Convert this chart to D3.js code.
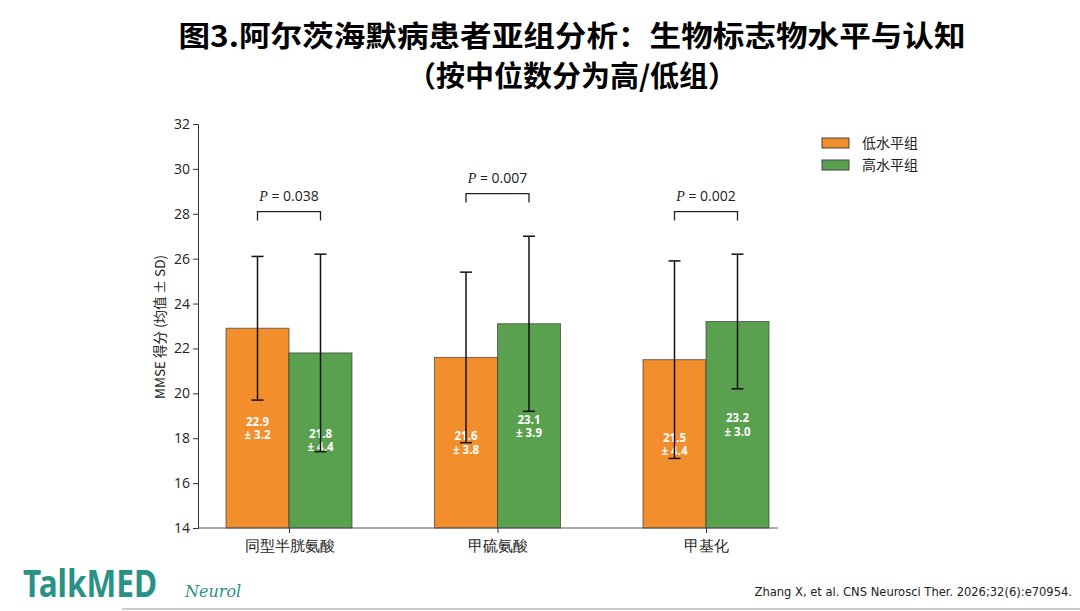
<!DOCTYPE html>
<html>
<head>
<meta charset="utf-8">
<script src="https://cdn.jsdelivr.net/npm/d3@7"></script>
<style>
  body { margin: 0; background: #fff; }
  svg { display: block; font-family: "Noto Sans CJK SC", "Noto Sans", sans-serif; }
</style>
</head>
<body>
<div id="chart"></div>
<script>
// data
var categories = ["同型半胱氨酸", "甲硫氨酸", "甲基化"];
var groups = ["低水平组", "高水平组"];
var lowMean = [22.9, 21.6, 21.5];
var lowSD = [3.2, 3.8, 4.4];
var highMean = [21.8, 23.1, 23.2];
var highSD = [4.4, 3.9, 3.0];
var pValues = ["0.038", "0.007", "0.002"];
var yTicks = [14, 16, 18, 20, 22, 24, 26, 28, 30, 32];

var colors = ["#f28e2b", "#59a14f"];

var svgWidth = 1080, svgHeight = 611;

var svg = d3.select("#chart").append("svg")
  .attr("width", svgWidth)
  .attr("height", svgHeight);

// title
svg.append("text")
  .attr("x", 572).attr("y", 47)
  .attr("text-anchor", "middle")
  .style("font-size", "29px").style("font-weight", "bold")
  .attr("textLength", 787).attr("lengthAdjust", "spacingAndGlyphs")
  .text("图3.阿尔茨海默病患者亚组分析：生物标志物水平与认知");
svg.append("text")
  .attr("x", 572).attr("y", 87)
  .attr("text-anchor", "middle")
  .style("font-size", "29px").style("font-weight", "bold")
  .text("（按中位数分为高/低组）");

var chart = svg.append("g");

var y = d3.scaleLinear()
  .domain([14, 32])
  .range([528, 124]);

var x = d3.scalePoint()
  .domain(categories)
  .range([289, 706]);

var barW = 63;

// build rows for bars
var rows = [];
categories.forEach(function(c, i) {
  rows.push({ cat: c, g: 0, mean: lowMean[i], sd: lowSD[i] });
  rows.push({ cat: c, g: 1, mean: highMean[i], sd: highSD[i] });
});
function barX(d) { return d.g == 0 ? x(d.cat) - barW : x(d.cat); }

// bars
chart.selectAll("rect.bar")
  .data(rows)
  .enter()
  .append("rect")
  .attr("class", "bar")
  .attr("x", barX)
  .attr("y", d => y(d.mean))
  .attr("width", barW)
  .attr("height", d => y(14) - y(d.mean))
  .attr("fill", d => colors[d.g])
  .attr("stroke", "#3a3a3a")
  .attr("stroke-opacity", 0.7)
  .attr("stroke-width", 1);

// value labels, centred on bar middle
var lab = chart.selectAll("text.val")
  .data(rows)
  .enter()
  .append("text")
  .attr("class", "val")
  .attr("text-anchor", "middle")
  .attr("fill", "#fff")
  .style("font-size", "11.5px").style("font-weight", "bold")
  .style("font-family", "'Open Sans', 'Noto Sans', sans-serif")
  .attr("y", d => y((d.mean + 14) / 2));
lab.append("tspan")
  .attr("x", d => barX(d) + barW / 2)
  .attr("dy", "-0.2em")
  .text(d => d.mean.toFixed(1));
lab.append("tspan")
  .attr("x", d => barX(d) + barW / 2)
  .attr("dy", "1.15em")
  .text(d => "± " + d.sd.toFixed(1));

// error bars
var err = chart.selectAll("g.err")
  .data(rows)
  .enter()
  .append("g")
  .attr("class", "err")
  .attr("stroke", "#111")
  .attr("stroke-width", 1.5);
err.append("line")
  .attr("x1", d => barX(d) + barW / 2).attr("x2", d => barX(d) + barW / 2)
  .attr("y1", d => y(d.mean + d.sd)).attr("y2", d => y(d.mean - d.sd));
err.append("line")
  .attr("x1", d => barX(d) + barW / 2 - 6).attr("x2", d => barX(d) + barW / 2 + 6)
  .attr("y1", d => y(d.mean + d.sd)).attr("y2", d => y(d.mean + d.sd));
err.append("line")
  .attr("x1", d => barX(d) + barW / 2 - 6).attr("x2", d => barX(d) + barW / 2 + 6)
  .attr("y1", d => y(d.mean - d.sd)).attr("y2", d => y(d.mean - d.sd));

// axes
var leftAxis = d3.axisLeft(y).tickValues(yTicks).tickSizeOuter(0).tickSize(5);
var yAxis = chart.append("g")
  .attr("transform", "translate(198,0)")
  .call(leftAxis);
yAxis.select(".domain").attr("stroke", "#333");
yAxis.selectAll(".tick line").attr("stroke", "#333");
yAxis.selectAll("text")
  .style("font-size", "14px").style("font-family", "'Open Sans', 'Noto Sans', sans-serif")
  .attr("fill", "#222");

var bottomAxis = d3.axisBottom(x).tickSizeOuter(0).tickSize(5);
var xAxis = chart.append("g")
  .attr("transform", "translate(0,528)")
  .call(bottomAxis);
xAxis.select(".domain").remove();
xAxis.selectAll(".tick line").attr("stroke", "#333");
xAxis.selectAll("text")
  .attr("dy", "1.0em")
  .style("font-size", "14.5px").attr("fill", "#222");
chart.append("line")
  .attr("x1", 198).attr("x2", 778)
  .attr("y1", 528).attr("y2", 528)
  .attr("stroke", "#555").attr("stroke-width", 1.2);

// y label
chart.append("text")
  .attr("transform", "rotate(-90)")
  .attr("x", -327).attr("y", 165)
  .attr("text-anchor", "middle")
  .style("font-size", "13.5px").attr("fill", "#222")
  .text("MMSE 得分 (均值 ± SD)");

// significance brackets
categories.forEach(function(c, i) {
  var top = Math.max(lowMean[i] + lowSD[i], highMean[i] + highSD[i]) + 1.9;
  var x1 = x(c) - barW / 2, x2 = x(c) + barW / 2;
  chart.append("path")
    .attr("d", "M" + x1 + "," + y(top - 0.4) + "V" + y(top) + "H" + x2 + "V" + y(top - 0.4))
    .attr("fill", "none")
    .attr("stroke", "#222").attr("stroke-width", 1.3);
  var t = chart.append("text")
    .attr("x", x(c)).attr("y", y(top + 0.45))
    .attr("text-anchor", "middle")
    .style("font-size", "14px").attr("fill", "#222")
    .style("font-family", "'Open Sans', 'Noto Sans', sans-serif");
  t.append("tspan").style("font-style", "italic").style("font-family", "'Liberation Serif', serif").text("P");
  t.append("tspan").text(" = " + pValues[i]);
});

// legend
var legend = svg.append("g").attr("transform", "translate(822,138)");
groups.forEach(function(g, i) {
  legend.append("rect")
    .attr("x", 0).attr("y", i * 22)
    .attr("width", 27).attr("height", 10)
    .attr("fill", colors[i])
    .attr("stroke", "#444").attr("stroke-width", 1);
  legend.append("text")
    .attr("x", 40).attr("y", i * 22 + 10)
    .style("font-size", "14px").attr("fill", "#222")
    .text(g);
});

// footer
svg.append("text")
  .attr("x", 23).attr("y", 597)
  .attr("textLength", 134).attr("lengthAdjust", "spacingAndGlyphs")
  .style("font-size", "37px").style("font-weight", "bold")
  .style("font-family", "'Noto Sans', sans-serif")
  .attr("fill", "#2a9187")
  .text("TalkMED");
svg.append("text")
  .attr("x", 185).attr("y", 597)
  .style("font-size", "16px").style("font-style", "italic")
  .style("font-family", "'DejaVu Serif', serif")
  .attr("fill", "#2a9187")
  .text("Neurol");
svg.append("text")
  .attr("x", 1072).attr("y", 596)
  .attr("text-anchor", "end")
  .style("font-size", "12.8px").attr("fill", "#222")
  .style("font-family", "'DejaVu Sans Condensed', sans-serif")
  .style("font-stretch", "condensed")
  .text("Zhang X, et al. CNS Neurosci Ther. 2026;32(6):e70954.");
svg.append("line")
  .attr("x1", 122).attr("x2", 1080)
  .attr("y1", 609).attr("y2", 609)
  .attr("stroke", "#ccc").attr("stroke-width", 2);
</script>
</body>
</html>
